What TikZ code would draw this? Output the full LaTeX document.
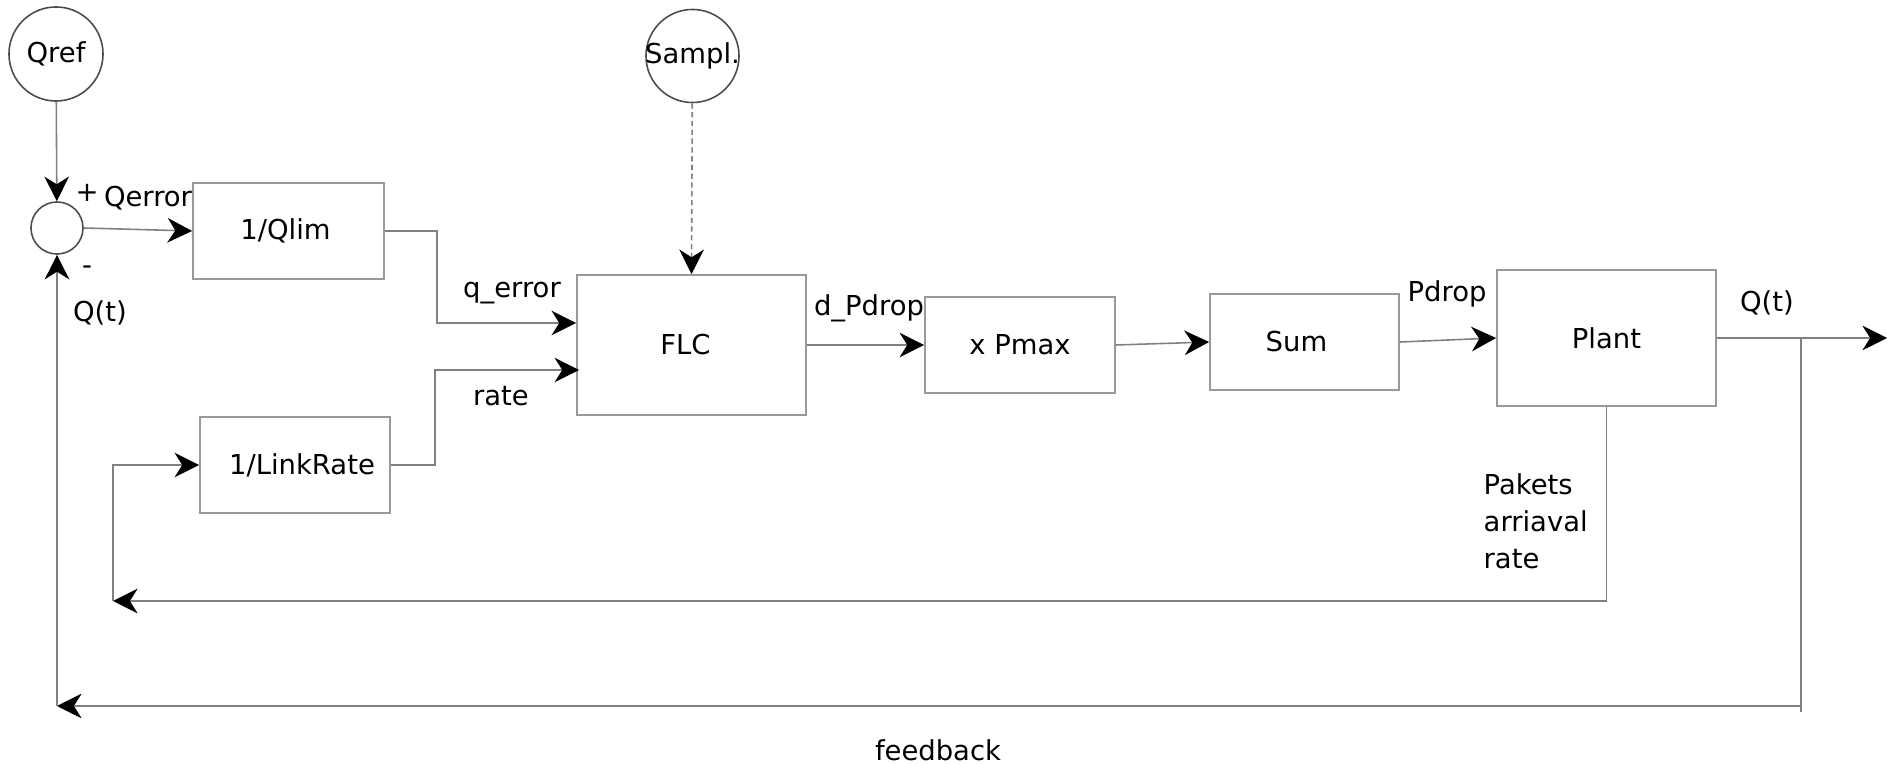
\documentclass[tikz,border=0pt]{standalone}
\usepackage{fontspec}
\setmainfont{DejaVu Sans}
\usetikzlibrary{arrows.meta,calc}

\tikzset{
  lbl/.style={font=\fontsize{7.8}{10.5}\selectfont, inner sep=0pt},
  blockbox/.style={draw=black!40, line width=0.45pt, rectangle, font=\fontsize{7.8}{10.5}\selectfont, inner sep=0pt},
  ring/.style={draw=black!70, line width=0.45pt, circle, inner sep=0pt},
  wire/.style={draw=black!50, line width=0.45pt},
  arr/.style={wire, -{Stealth[length=7pt, width=7pt, inset=2.2pt, color=black]}},
}

\begin{document}
\begin{tikzpicture}[x=0.01cm, y=-0.01cm]
  \useasboundingbox (0,0) rectangle (1893,764);

  % sources and summing junction
  \node[ring, minimum size=0.94cm, label={[lbl]center:Qref}] (qref) at (56,54) {};
  \node[ring, minimum size=0.93cm, label={[lbl]center:Sampl.}] (sampl) at (692.5,56) {};
  \node[ring, minimum size=0.52cm] (sj) at (57,228) {};

  % blocks
  \node[blockbox, minimum width=1.91cm, minimum height=0.96cm] (qlim) at (288.5,231) {1/Qlim\hspace*{0.06cm}};
  \node[blockbox, minimum width=1.90cm, minimum height=0.96cm] (link) at (295,465) {\hspace*{0.14cm}1/LinkRate};
  \node[blockbox, minimum width=2.29cm, minimum height=1.40cm] (flc) at (691.5,345) {FLC\hspace*{0.12cm}};
  \node[blockbox, minimum width=1.90cm, minimum height=0.96cm] (pmax) at (1020,345) {x Pmax};
  \node[blockbox, minimum width=1.89cm, minimum height=0.96cm] (sum) at (1304.5,342) {Sum\hspace*{0.16cm}};
  \node[blockbox, minimum width=2.19cm, minimum height=1.36cm] (plant) at (1606.5,338) {Plant};

  % free ends of the connectors
  \coordinate (out) at (1887,338);
  \coordinate (br) at (1801,338);
  \coordinate (fbR) at (1801,706);
  \coordinate (fbL) at (57,706);
  \coordinate (arL) at (113,601);

  % forward path
  \draw[arr] (qref) -- (sj);
  \draw[arr] (sj.east) -- (qlim.west);
  \draw[arr] (qlim.east) -- ++(52,0) |- ([yshift=2.2mm]flc.west);
  \draw[arr] (link.east) -- ++(44,0) |- ([xshift=0.03cm, yshift=-2.5mm]flc.west);
  \draw[arr, dash pattern=on 1.5pt off 1pt] (sampl) -- (flc.north);
  \draw[arr] (flc.east) -- (pmax.west);
  \draw[arr] (pmax.east) -- (sum.west);
  \draw[arr] (sum.east) -- (plant.west);
  \draw[arr] (plant.east) -- (out);

  % feedback paths
  \draw[wire] (br) -- ++(0,374);
  \draw[arr] (fbR) -- (fbL);
  \draw[arr] (fbL) -- (sj.south);
  \draw[arr] (plant.south) |- (arL);
  \draw[arr] (arL) |- (link.west);

  % signal labels
  \node[lbl] (plus) at (87,193) {+};
  \node[lbl] (qerr) at (148,198) {Qerror};
  \node[lbl] (minus) at (87,270) {-};
  \node[lbl] (qtin) at (100,313) {Q(t)};
  \node[lbl] (qerror) at (512,293) {q\_error};
  \node[lbl] (rate) at (501,396) {rate};
  \node[lbl] (dpdrop) at (869,308) {d\_Pdrop};
  \node[lbl] (pdrop) at (1447,294) {Pdrop};
  \node[lbl] (qtout) at (1767,303) {Q(t)};
  \node[lbl, anchor=west, align=left] (pakets) at (1483,521) {Pakets\\arriaval\\rate};
  \node[lbl] (fb) at (938,750) {feedback};
\end{tikzpicture}
\end{document}
